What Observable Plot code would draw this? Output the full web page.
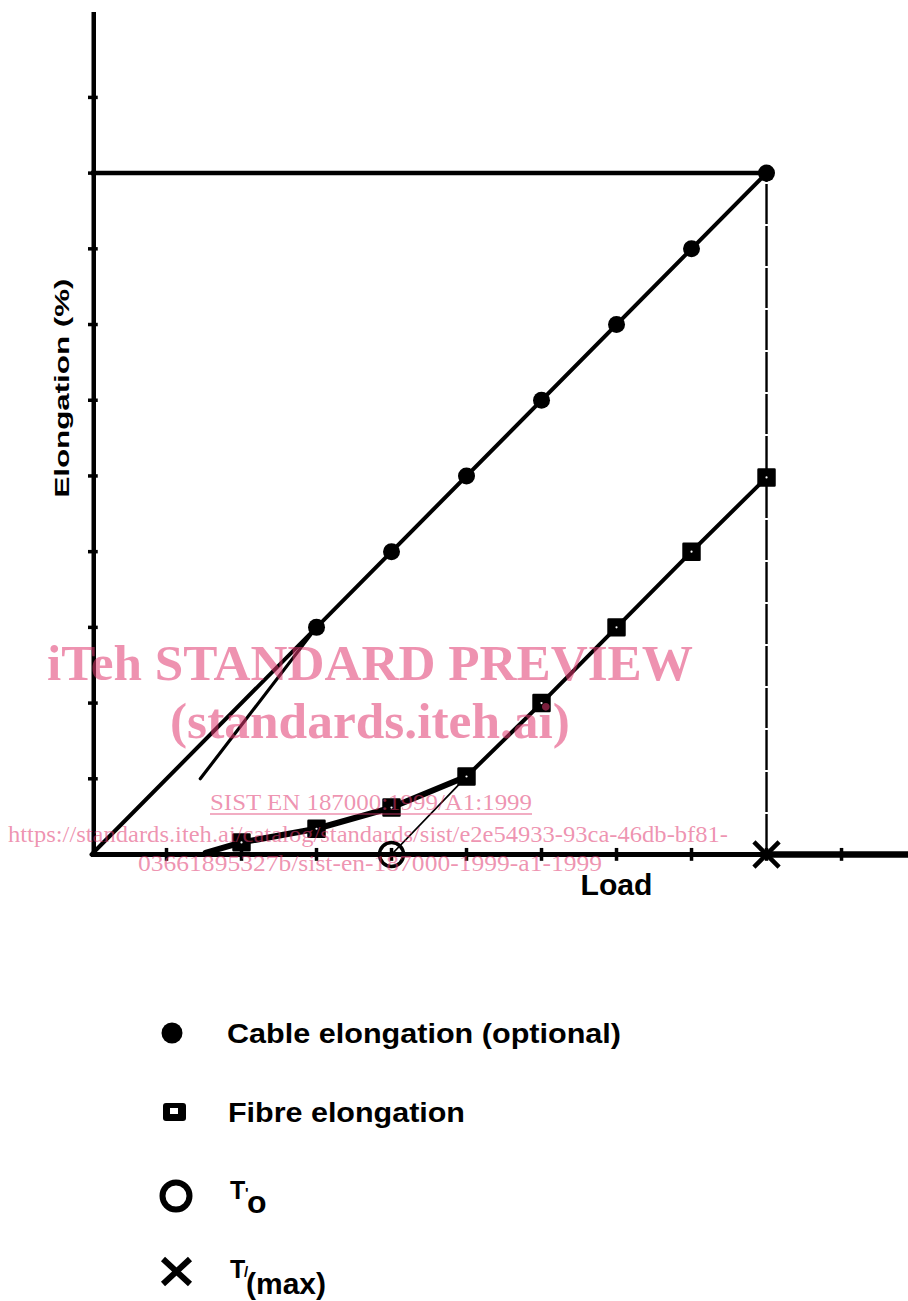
<!DOCTYPE html>
<html><head><meta charset="utf-8">
<script src="https://cdn.jsdelivr.net/npm/d3@7"></script>
<script src="https://cdn.jsdelivr.net/npm/@observablehq/plot@0.6"></script>
<style>
body{margin:0;background:#fff;}
#wrap{position:relative;width:908px;height:1301px;overflow:hidden;background:#fff;}
#chart{position:absolute;left:0;top:0;}
#legend{position:absolute;left:0;top:900px;}
#overlay{position:absolute;left:0;top:0;pointer-events:none;}
</style></head><body>
<div id="wrap"><div id="chart"></div><svg id="legend" width="908" height="401"></svg><svg id="overlay" width="908" height="1301"></svg></div>
<script>
// ---- data (units = grid steps) ----
const loadTicks = [1, 2, 3, 4, 5, 6, 7, 8, 9, 10];
const elongTicks = [1, 2, 3, 4, 5, 6, 7, 8, 9, 10];
const cableLoad = [3, 4, 5, 6, 7, 8, 9];
const cableElong = [3, 4, 5, 6, 7, 8, 9];
const fibreLoad = [1.52, 2, 3, 4, 5, 6, 7, 8, 9];
const fibreElong = [0.02, 0.16, 0.34, 0.62, 1.03, 2.0, 3.0, 4.0, 4.98];
const tangentLoad = [1.45, 3];
const tangentElong = [1.0, 3];
const T0 = 4;
const Tmax = 9;
const xAxisEnd = 10.9;
const yAxisEnd = 11.12;
const legendLabels = ["Cable elongation (optional)", "Fibre elongation", "T", "T"];
const legendSubs = ["", "", "o", "(max)"];
const xLabel = "Load";
const yLabel = "Elongation (%)";

const cable = cableLoad.map((x, i) => ({x, y: cableElong[i]}));
const fibre = fibreLoad.map((x, i) => ({x, y: fibreElong[i]}));
const fibreSquares = fibre.filter(d => d.x >= 2);
const cableLine = [{x: 0, y: 0}, cable[cable.length - 1]];
const tangent = tangentLoad.map((x, i) => ({x, y: tangentElong[i]}));
const t0Line = [{x: T0, y: 0}, fibre.find(d => d.x === 5)];
const tMaxElong = cable[cable.length - 1].y;

const plot = Plot.plot({
  width: 908, height: 900,
  marginLeft: 91, marginRight: 0, marginTop: 0, marginBottom: 46,
  x: {domain: [0, 10.893], axis: null},
  y: {domain: [0, 11.28], axis: null},
  style: {background: "white", overflow: "visible"},
  marks: [
    // axes
    Plot.ruleX([0.03], {y1: 0, y2: yAxisEnd, strokeWidth: 4.5, stroke: "black"}),
    Plot.ruleY([0], {x1: 0, x2: Tmax, strokeWidth: 5, stroke: "black"}),
    Plot.ruleY([0], {x1: Tmax, x2: xAxisEnd, strokeWidth: 6.5, stroke: "black"}),
    Plot.ruleX(loadTicks, {x: d => d, y1: -0.09, y2: 0.08, strokeWidth: 3.5, stroke: "black"}),
    Plot.ruleY(elongTicks, {y: d => d, x1: -0.04, x2: 0.09, strokeWidth: 3.5, stroke: "black"}),
    // max lines
    Plot.ruleY([tMaxElong], {x1: 0, x2: Tmax, strokeWidth: 4.5, stroke: "black"}),
    Plot.ruleX([Tmax], {y1: 0, y2: tMaxElong, strokeWidth: 2.4, stroke: "black", strokeDasharray: "40,2"}),
    // lines
    Plot.line(cableLine, {x: "x", y: "y", strokeWidth: 4, stroke: "black"}),
    Plot.line(tangent, {x: "x", y: "y", strokeWidth: 3.2, stroke: "black"}),
    Plot.line(t0Line, {x: "x", y: "y", strokeWidth: 1.8, stroke: "black"}),
    Plot.line(fibre.filter(d => d.x <= 5), {x: "x", y: "y", strokeWidth: 6, stroke: "black", strokeLinecap: "round"}),
    Plot.line(fibre.filter(d => d.x >= 5), {x: "x", y: "y", strokeWidth: 4, stroke: "black"}),
    // markers
    Plot.dot(cable, {x: "x", y: "y", r: 8.5, fill: "black"}),
    Plot.dot(fibreSquares, {x: "x", y: "y", symbol: "square", r: 9, fill: "black", stroke: "black", strokeWidth: 2.5, strokeLinejoin: "round"}),
    Plot.dot(fibreSquares, {x: "x", y: "y", r: 1.1, fill: "white"}),
    Plot.dot([{x: T0, y: 0}], {x: "x", y: "y", r: 12, stroke: "black", strokeWidth: 3.5, fill: "none"}),
    Plot.dot([{x: Tmax, y: 0}], {x: "x", y: "y", symbol: "times", r: 11.5, stroke: "black", strokeWidth: 4.5}),
    // axis labels
    Plot.text([xLabel], {x: 7.0, y: -0.41, text: d => d, fontSize: 29, fontWeight: "bold", fontFamily: "Liberation Sans", fill: "black", className: "xlab"}),
    Plot.text([yLabel], {x: -0.39, y: 6.16, text: d => d, rotate: -90, fontSize: 21, fontWeight: "bold", fontFamily: "Liberation Sans", fill: "black", className: "ylab"})
  ]
});
document.getElementById("chart").appendChild(plot);
d3.select(plot).selectAll(".xlab text").attr("textLength", 72).attr("lengthAdjust", "spacingAndGlyphs");
d3.select(plot).selectAll(".ylab text").attr("textLength", 219).attr("lengthAdjust", "spacingAndGlyphs");

// ---- legend ----
const lg = d3.select("#legend");
const font = "Liberation Sans";
// marker 1: filled circle
lg.append("circle").attr("cx", 172).attr("cy", 133).attr("r", 10.5).attr("fill", "black");
// marker 2: square
lg.append("rect").attr("x", 163).attr("y", 203).attr("width", 23).attr("height", 18).attr("rx", 3).attr("fill", "black");
lg.append("rect").attr("x", 170).attr("y", 208).attr("width", 8).attr("height", 6).attr("fill", "white");
// marker 3: open circle
lg.append("circle").attr("cx", 176).attr("cy", 296).attr("r", 13.5).attr("fill", "none").attr("stroke", "black").attr("stroke-width", 6);
// marker 4: X
lg.append("path").attr("d", "M163,359 L190,384 M190,359 L163,384").attr("stroke", "black").attr("stroke-width", 6).attr("fill", "none");

lg.append("text").attr("x", 227).attr("y", 143).attr("font-family", font).attr("font-weight", "bold").attr("font-size", 27).text(legendLabels[0]).attr("textLength", 394).attr("lengthAdjust", "spacingAndGlyphs");
lg.append("text").attr("x", 228).attr("y", 222).attr("font-family", font).attr("font-weight", "bold").attr("font-size", 27).text(legendLabels[1]).attr("textLength", 237).attr("lengthAdjust", "spacingAndGlyphs");
// T'o
lg.append("text").attr("x", 230).attr("y", 299).attr("font-family", font).attr("font-weight", "bold").attr("font-size", 25).text(legendLabels[2]);
lg.append("text").attr("x", 245).attr("y", 298).attr("font-family", font).attr("font-weight", "bold").attr("font-size", 15).text("'");
lg.append("text").attr("x", 247).attr("y", 313).attr("font-family", font).attr("font-weight", "bold").attr("font-size", 32).text(legendSubs[2]);
// T'(max)
lg.append("text").attr("x", 230).attr("y", 378).attr("font-family", font).attr("font-weight", "bold").attr("font-size", 25).text(legendLabels[3]);
lg.append("text").attr("x", 244).attr("y", 377).attr("font-family", font).attr("font-weight", "bold").attr("font-size", 15).text("/");
lg.append("text").attr("x", 246).attr("y", 394).attr("font-family", font).attr("font-weight", "bold").attr("font-size", 29).text(legendSubs[3]).attr("textLength", 80).attr("lengthAdjust", "spacingAndGlyphs");

// ---- watermark overlay ----
const ov = d3.select("#overlay");
const wm = [
  {t: "iTeh STANDARD PREVIEW", x: 47, y: 680, s: 50, w: 646, b: true},
  {t: "(standards.iteh.ai)", x: 170, y: 738, s: 50, w: 400, b: true},
  {t: "SIST EN 187000:1999/A1:1999", x: 210, y: 810, s: 24, w: 322, b: false},
  {t: "https://standards.iteh.ai/catalog/standards/sist/e2e54933-93ca-46db-bf81-", x: 8, y: 842, s: 24, w: 720, b: false},
  {t: "03661895327b/sist-en-187000-1999-a1-1999", x: 138, y: 871, s: 24, w: 464, b: false}
];
wm.forEach(d => {
  ov.append("text").attr("x", d.x).attr("y", d.y).attr("font-family", "Liberation Serif")
    .attr("font-weight", d.b ? "bold" : "normal").attr("font-size", d.s)
    .attr("fill", "#e0396f").attr("fill-opacity", 0.55)
    .attr("textLength", d.w).attr("lengthAdjust", "spacingAndGlyphs").text(d.t);
});
ov.append("line").attr("x1", 210).attr("x2", 532).attr("y1", 814).attr("y2", 814).attr("stroke", "#e0396f").attr("stroke-opacity", 0.55).attr("stroke-width", 1.5);
</script>
</body></html>
